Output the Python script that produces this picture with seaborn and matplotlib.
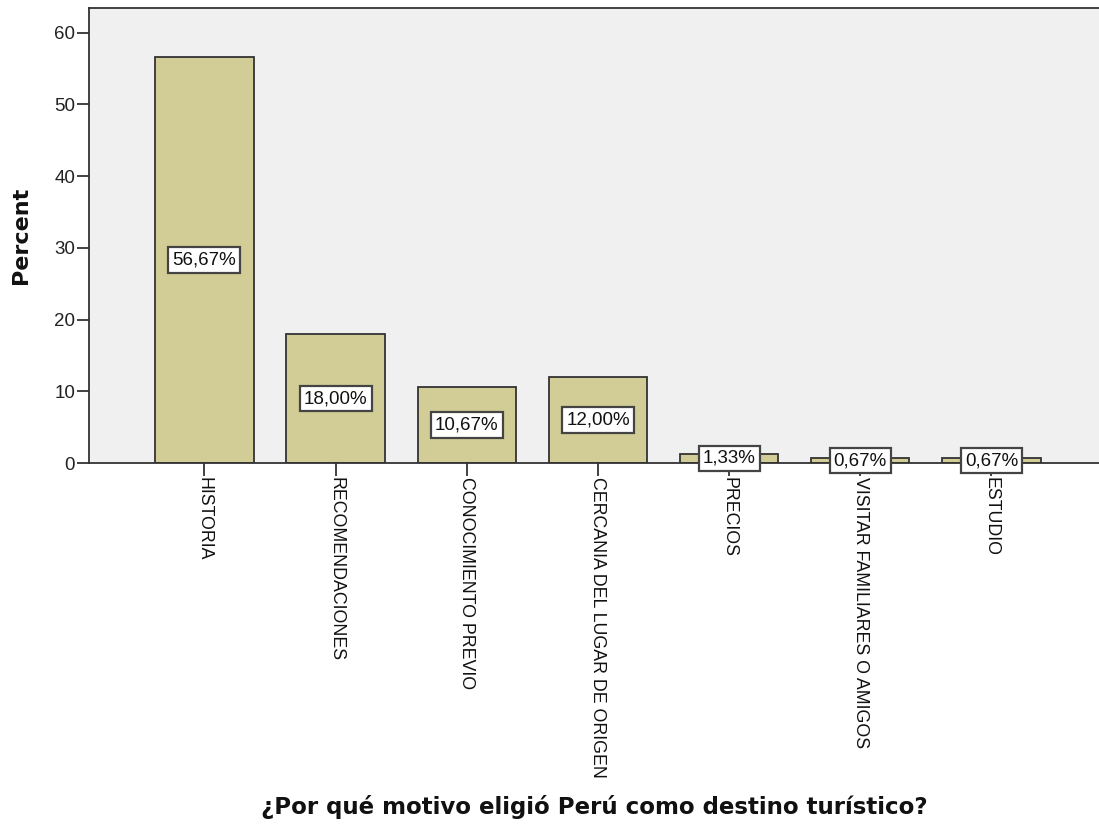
import matplotlib
matplotlib.use("Agg")
import matplotlib.pyplot as plt
import seaborn as sns
import pandas as pd

categories = ["HISTORIA", "RECOMENDACIONES", "CONOCIMIENTO PREVIO",
              "CERCANIA DEL LUGAR DE ORIGEN", "PRECIOS",
              "VISITAR FAMILIARES O AMIGOS", "ESTUDIO"]
percents = [56.67, 18.00, 10.67, 12.00, 1.33, 0.67, 0.67]
y_ticks = [0, 10, 20, 30, 40, 50, 60]

sns.set_style("white")
plt.rcParams["font.family"] = ["Liberation Sans", "DejaVu Sans"]

df = pd.DataFrame({"motivo": categories, "pct": percents})

fig = plt.figure(figsize=(10.99, 8.33), dpi=100)
ax = fig.add_axes([0.081, 0.444, 0.919, 0.546])
ax.set_facecolor("#F0F0F0")

sns.barplot(data=df, x="motivo", y="pct", color="#D2CD96", saturation=1,
            width=0.75, edgecolor="#333333", linewidth=1.3, ax=ax, zorder=2)

# value labels centred in each bar
for i, v in enumerate(percents):
    ax.text(i, v / 2, f"{v:.2f}%".replace(".", ","), ha="center", va="center",
            fontsize=13.5, color="#111111", zorder=5,
            bbox=dict(boxstyle="square,pad=0.22", facecolor="white",
                      edgecolor="#444444", linewidth=1.6))

ax.set_ylim(0, 63.4)
ax.set_xlim(-0.88, 6.82)
ax.set_yticks(y_ticks)
ax.set_yticklabels([str(t) for t in y_ticks], fontsize=13.5, color="#222222")
ax.set_xticks(range(len(categories)))
ax.set_xticklabels(categories, rotation=270, fontsize=12.8, color="#111111",
                   va="top", ha="center")

ax.tick_params(axis="both", direction="out", length=9, width=1.3,
               color="#333333", left=True, bottom=True, pad=1)

for side in ["left", "top", "bottom"]:
    ax.spines[side].set_visible(True)
    ax.spines[side].set_color("#333333")
    ax.spines[side].set_linewidth(1.3)
ax.spines["right"].set_visible(False)

ax.set_ylabel("Percent", fontsize=16, fontweight="bold",
              family=["DejaVu Sans"], color="#111111")
ax.yaxis.set_label_coords(-0.057, 0.5, transform=ax.transAxes)
ax.set_xlabel("¿Por qué motivo eligió Perú como destino turístico?",
              fontsize=16.5, fontweight="bold", family=["DejaVu Sans"],
              color="#111111")
ax.xaxis.set_label_coords(0.5, -0.73, transform=ax.transAxes)

fig.savefig("out.png", dpi=100, facecolor="white")
